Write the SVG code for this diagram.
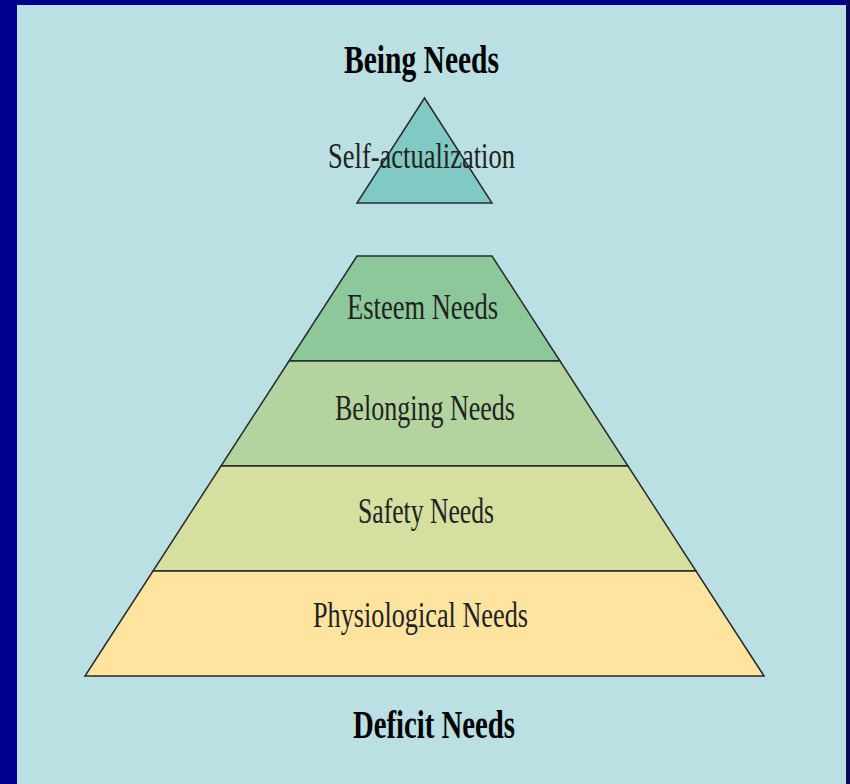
<svg xmlns="http://www.w3.org/2000/svg" width="850" height="784" viewBox="0 0 850 784">
  <style>
    .layer { stroke: #2a2a2a; stroke-width: 1.5; stroke-linejoin: miter; }
    .lbl { font-family: "Liberation Serif", "DejaVu Serif", serif; font-size: 36px; fill: #222; }
    .head { font-family: "Liberation Serif", "DejaVu Serif", serif; font-size: 40px; font-weight: bold; fill: #000; }
  </style>
  <rect x="0" y="0" width="850" height="784" fill="#000090"/>
  <rect x="846" y="0" width="4" height="784" fill="#0a0a5a"/>
  <rect x="17" y="5" width="829" height="779" fill="#BAE0E3"/>

  <g id="heading-being">
    <text class="head" x="344" y="73" textLength="155" lengthAdjust="spacingAndGlyphs">Being Needs</text>
  </g>

  <g id="self-actualization">
    <polygon class="layer" points="424.5,98 357,203 492,203" fill="#80C9C4"/>
    <text class="lbl" x="328" y="168" textLength="187" lengthAdjust="spacingAndGlyphs">Self-actualization</text>
  </g>

  <g id="esteem">
    <polygon class="layer" points="357,256 492,256 560,361 289,361" fill="#8CC89A"/>
    <text class="lbl" x="347" y="319" textLength="151" lengthAdjust="spacingAndGlyphs">Esteem Needs</text>
  </g>

  <g id="belonging">
    <polygon class="layer" points="289,361 560,361 628,466 221,466" fill="#B3D49E"/>
    <text class="lbl" x="335" y="420" textLength="180" lengthAdjust="spacingAndGlyphs">Belonging Needs</text>
  </g>

  <g id="safety">
    <polygon class="layer" points="221,466 628,466 696,571 153,571" fill="#D4DFA0"/>
    <text class="lbl" x="358" y="523" textLength="136" lengthAdjust="spacingAndGlyphs">Safety Needs</text>
  </g>

  <g id="physiological">
    <polygon class="layer" points="153,571 696,571 764,676 85,676" fill="#FFE4A0"/>
    <text class="lbl" x="313" y="627" textLength="215" lengthAdjust="spacingAndGlyphs">Physiological Needs</text>
  </g>

  <g id="heading-deficit">
    <text class="head" x="353" y="738" textLength="162" lengthAdjust="spacingAndGlyphs">Deficit Needs</text>
  </g>

  <g id="connectors"></g>
</svg>
